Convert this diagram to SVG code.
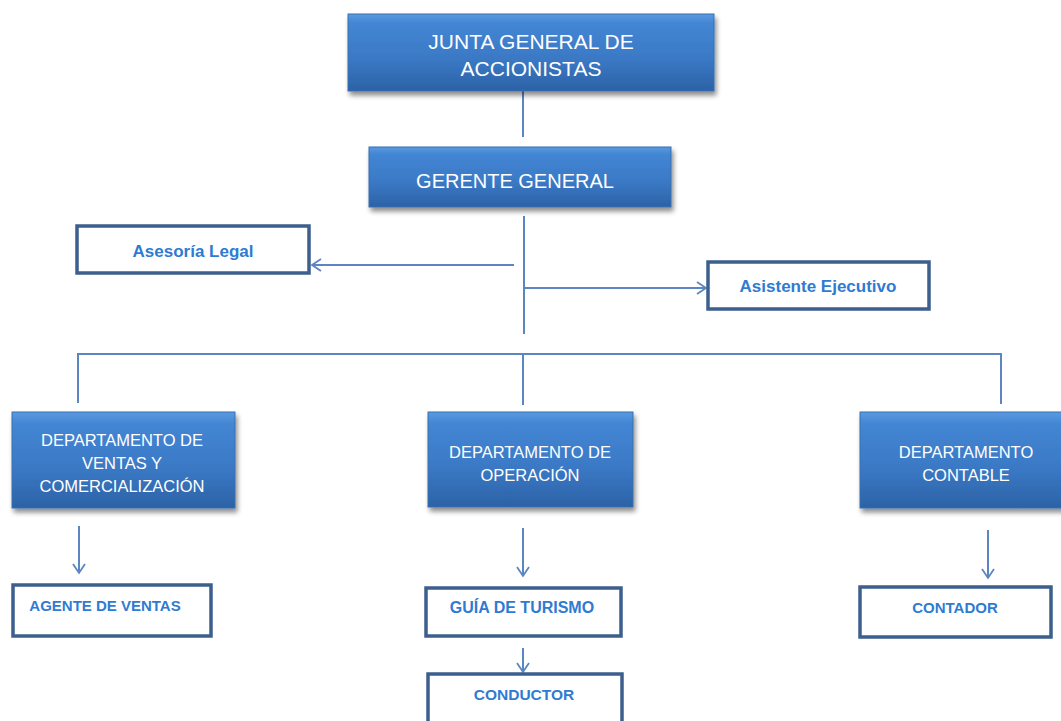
<svg xmlns="http://www.w3.org/2000/svg" width="1061" height="721" viewBox="0 0 1061 721">
<defs>
<linearGradient id="blueGrad" x1="0" y1="0" x2="0" y2="1">
<stop offset="0" stop-color="#5a9ae0"/>
<stop offset="0.12" stop-color="#4386d4"/>
<stop offset="0.6" stop-color="#3a78c4"/>
<stop offset="1" stop-color="#2c62a6"/>
</linearGradient>
<filter id="shadow" x="-10%" y="-10%" width="125%" height="135%">
<feGaussianBlur in="SourceAlpha" stdDeviation="2.5"/>
<feOffset dx="2" dy="4" result="b"/>
<feComponentTransfer><feFuncA type="linear" slope="0.45"/></feComponentTransfer>
<feMerge><feMergeNode/><feMergeNode in="SourceGraphic"/></feMerge>
</filter>
<marker id="arrow" markerWidth="14" markerHeight="14" refX="11" refY="7" orient="auto" markerUnits="userSpaceOnUse">
<path d="M2,1 L11,7 L2,13" fill="none" stroke="#5b86c1" stroke-width="1.8"/>
</marker>
</defs>
<style>
.blue{fill:url(#blueGrad);stroke:#3a6fb0;stroke-width:1;filter:url(#shadow)}
.white{fill:#ffffff;stroke:#3d5f8d;stroke-width:3.5}
.wt{font-family:"Liberation Sans",Arial,sans-serif;fill:#ffffff;text-anchor:middle}
.bt{font-family:"Liberation Sans",Arial,sans-serif;fill:#2f7bd2;font-weight:bold;text-anchor:middle}
.ln{stroke:#5b86c1;stroke-width:2;fill:none}
</style>
<rect width="1061" height="721" fill="#ffffff"/>
<g id="connectors">
<line class="ln" x1="523" y1="91" x2="523" y2="137"/>
<line class="ln" x1="524" y1="216" x2="524" y2="334"/>
<line class="ln" x1="514" y1="265" x2="312" y2="265" marker-end="url(#arrow)"/>
<line class="ln" x1="525" y1="288" x2="706" y2="288" marker-end="url(#arrow)"/>
<polyline class="ln" points="78,403 78,354 1001,354 1001,404"/>
<line class="ln" x1="523" y1="354" x2="523" y2="405"/>
<line class="ln" x1="79" y1="526" x2="79" y2="573" marker-end="url(#arrow)"/>
<line class="ln" x1="523" y1="528" x2="523" y2="576" marker-end="url(#arrow)"/>
<line class="ln" x1="523" y1="648" x2="523" y2="672" marker-end="url(#arrow)"/>
<line class="ln" x1="988" y1="530" x2="988" y2="578" marker-end="url(#arrow)"/>
</g>
<g id="junta">
<rect class="blue" x="348" y="14" width="366" height="77"/>
<text class="wt" x="531" y="49" font-size="21">JUNTA GENERAL DE</text>
<text class="wt" x="531" y="76" font-size="21">ACCIONISTAS</text>
</g>
<g id="gerente">
<rect class="blue" x="369" y="147" width="302" height="60"/>
<text class="wt" x="515" y="188" font-size="20">GERENTE GENERAL</text>
</g>
<g id="asesoria">
<rect class="white" x="77" y="226" width="232" height="47"/>
<text class="bt" x="193" y="257" font-size="17">Asesoría Legal</text>
</g>
<g id="asistente">
<rect class="white" x="708" y="262" width="221" height="47"/>
<text class="bt" x="818" y="292" font-size="17">Asistente Ejecutivo</text>
</g>
<g id="ventas">
<rect class="blue" x="12" y="412" width="223" height="96"/>
<text class="wt" x="122" y="446" font-size="16.5">DEPARTAMENTO DE</text>
<text class="wt" x="122" y="469" font-size="16.5">VENTAS Y</text>
<text class="wt" x="122" y="492" font-size="16.5">COMERCIALIZACIÓN</text>
</g>
<g id="operacion">
<rect class="blue" x="428" y="412" width="205" height="95"/>
<text class="wt" x="530" y="458" font-size="16.5">DEPARTAMENTO DE</text>
<text class="wt" x="530" y="481" font-size="16.5">OPERACIÓN</text>
</g>
<g id="contable">
<rect class="blue" x="860" y="412" width="205" height="96"/>
<text class="wt" x="966" y="458" font-size="16.5">DEPARTAMENTO</text>
<text class="wt" x="966" y="481" font-size="16.5">CONTABLE</text>
</g>
<g id="agente">
<rect class="white" x="13" y="585" width="198" height="51"/>
<text class="bt" x="105" y="611" font-size="15">AGENTE DE VENTAS</text>
</g>
<g id="guia">
<rect class="white" x="426" y="588" width="195" height="48"/>
<text class="bt" x="522" y="613" font-size="16">GUÍA DE TURISMO</text>
</g>
<g id="conductor">
<rect class="white" x="428" y="674" width="194" height="60"/>
<text class="bt" x="524" y="700" font-size="15.5">CONDUCTOR</text>
</g>
<g id="contador">
<rect class="white" x="860" y="587" width="191" height="50"/>
<text class="bt" x="955" y="613" font-size="15">CONTADOR</text>
</g>
</svg>
